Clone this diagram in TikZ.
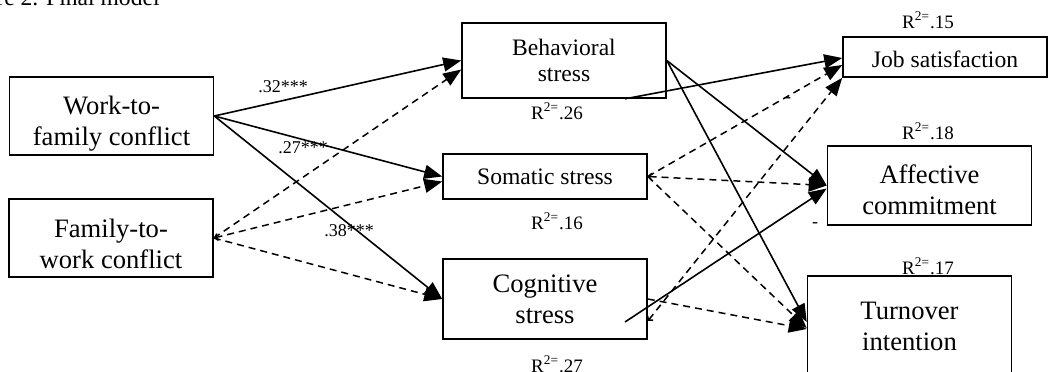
\documentclass[tikz,border=0pt]{standalone}
\usepackage{fontspec}
\setmainfont{Liberation Serif}
\usetikzlibrary{arrows.meta, positioning, calc}
\newcommand{\lift}[1]{\rule{0pt}{#1}}
\tikzset{%
	box/.style={draw, rectangle, line width=0.8pt, minimum width=102pt, inner sep=0mm,%
		align=center, font=\fontsize{11.8}{13}\selectfont},
	bigbox/.style={box, font=\fontsize{13.3}{15.5}\selectfont},
	coef/.style={inner sep=0mm, font=\fontsize{9}{10}\selectfont},
	rsq/.style={inner sep=0mm, font=\fontsize{9.5}{10}\selectfont},
	sig/.style={line width=0.8pt, -{Triangle[length=9pt,width=7pt]}},
	nonsig/.style={line width=0.75pt, dash pattern=on 3.5pt off 2.5pt, -{Triangle[length=9pt,width=7pt]}},
	barbed/.style={{Straight Barb[length=1.5pt,width=3.5pt]}-{Triangle[length=9pt,width=7pt]}}
}
\begin{document}
\begin{tikzpicture}[x=0.5pt, y=-0.5pt]
	\useasboundingbox (0,0) rectangle (1050,371);
	\node[anchor=base west, inner sep=0mm, font=\fontsize{11.8}{13}\selectfont] (title) at (-4,5) {re 2. Final model};
	% conflict
	\node[bigbox, minimum height=39pt] (wfc) at (111.5,116) {\lift{17pt}Work-to-\\family conflict};
	\node[bigbox, minimum height=39pt] (fwc) at (111,238) {\lift{15pt}Family-to-\\work conflict};
	% stress
	\node[box, minimum height=37.5pt] (beh) at (564,60.5) {Behavioral\\stress};
	\node[box, minimum height=22.5pt] (som) at (545,176.5) {Somatic stress};
	\node[bigbox, minimum height=40pt] (cog) at (545,299) {Cognitive\\stress};
	% outcomes
	\node[box, minimum height=20pt] (job) at (945,57) {\lift{11pt}Job satisfaction};
	\node[bigbox, minimum height=39.5pt] (aff) at (929.5,185.5) {\lift{14pt}Affective\\commitment};
	\node[bigbox, minimum height=50pt] (tur) at (909.5,326) {Turnover\\intention};
	% R squared
	\node[rsq] (r-beh) at (557,111) {R\textsuperscript{2=}.26};
	\node[rsq] (r-som) at (557,221) {R\textsuperscript{2=}.16};
	\node[rsq] (r-cog) at (557,364) {R\textsuperscript{2=}.27};
	\node[rsq] (r-job) at (928,20) {R\textsuperscript{2=}.15};
	\node[rsq] (r-aff) at (928,131) {R\textsuperscript{2=}.18};
	\node[rsq] (r-tur) at (928,266) {R\textsuperscript{2=}.17};
	% coefficients
	\node[coef] (c-beh) at (283,87) {.32***};
	\node[coef] (c-som) at (303,148) {.27***};
	\node[coef] (c-cog) at (349,231) {.38***};
	\node[coef] (m-job) at (788,100) {-};
	\node[coef] (m-aff) at (815,225) {-};
	% paths
	\draw [sig] (wfc.east) -- (beh.west);
	\draw [sig] (wfc.east) -- (som.west);
	\draw [sig] (wfc.east) -- (cog.west);
	\draw [nonsig] (fwc.east) -- ($(beh.west)+(0,9)$);
	\draw [nonsig, barbed] (fwc.east) -- ($(som.west)+(0,5)$);
	\draw [nonsig] (fwc.east) -- (cog.west);
	\draw [sig] (beh.east) -- (aff.west);
	\draw [sig] (beh.east) -- ($(tur.west)+(0,-4)$);
	\draw [sig] ($(beh.south)+(61,0)$) -- ($(job.west)+(0,1)$);
	\draw [sig] ($(cog.center)+(80,23)$) -- ($(aff.west)+(0,3)$);
	\draw [nonsig] (som.east) -- ($(job.west)+(0,8)$);
	\draw [nonsig, barbed] (som.east) -- (aff.west);
	\draw [nonsig] (som.east) -- ($(tur.west)+(0,2)$);
	\draw [nonsig, barbed] ($(cog.east)+(0,22)$) -- (job.south west);
	\draw [nonsig] (cog.east) -- ($(tur.west)+(0,3)$);
\end{tikzpicture}
\end{document}
